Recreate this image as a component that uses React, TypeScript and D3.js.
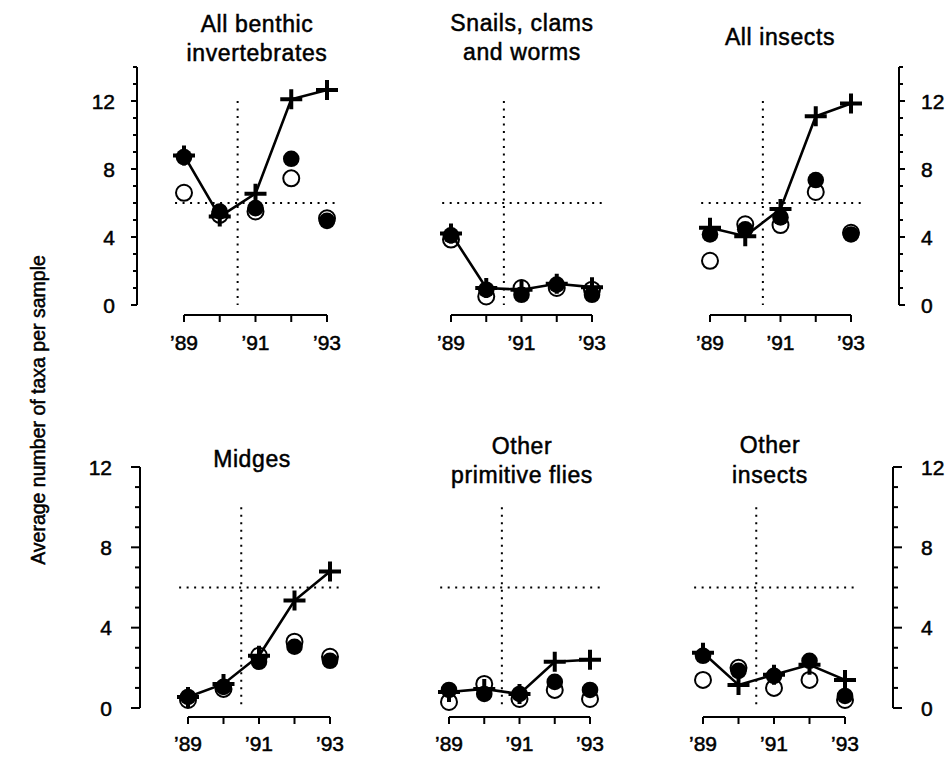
import React from "react"
import * as d3 from "d3"

// Data
const years = [1989, 1990, 1991, 1992, 1993]
const yearTicks = [1989, 1991, 1993]
const yearLabels = ["’89", "’91", "’93"]
const yMajorTicks = [0, 4, 8, 12]

const titles = [
  ["All benthic", "invertebrates"],
  ["Snails, clams", "and worms"],
  ["All insects"],
  ["Midges"],
  ["Other", "primitive flies"],
  ["Other", "insects"]
]

// "+" symbols, joined by the line
const plusSeries = [
  [8.8, 5.2, 6.55, 12.1, 12.65],
  [4.2, 1.0, 0.9, 1.25, 1.05],
  [4.55, 4.05, 5.65, 11.1, 11.85],
  [0.55, 1.2, 2.6, 5.35, 6.8],
  [0.8, 0.95, 0.7, 2.3, 2.4],
  [2.75, 1.15, 1.65, 2.15, 1.4]
]
// filled circles
const filledSeries = [
  [8.7, 5.5, 5.7, 8.6, 4.95],
  [4.1, 0.9, 0.6, 1.2, 0.6],
  [4.15, 4.45, 5.15, 7.35, 4.15],
  [0.55, 1.05, 2.3, 3.05, 2.35],
  [0.9, 0.7, 0.7, 1.3, 0.9],
  [2.6, 1.85, 1.6, 2.35, 0.6]
]
// open circles
const openSeries = [
  [6.6, 5.3, 5.5, 7.45, 5.1],
  [3.85, 0.5, 1.0, 1.0, 0.9],
  [2.6, 4.75, 4.7, 6.65, 4.25],
  [0.4, 0.95, 2.6, 3.3, 2.55],
  [0.3, 1.2, 0.45, 0.9, 0.45],
  [1.4, 2.0, 1.0, 1.4, 0.4]
]

const refYear = 1990.5
const refValue = 6
const refSpan = [1988.75, 1993.3]

// Layout
const rows = [
  { y0: 305, y12: 101, axisMax: 14, axisY: 315, labelY: 350, vTop: 12, tick: 6, minor: 4 },
  { y0: 708, y12: 467, axisMax: 12, axisY: 717, labelY: 751, vTop: 10, tick: 9, minor: 5 }
]
const panels = [
  { row: 0, x: [184, 327], tx: 257, ty: [32, 61], axis: "left", ax: 137 },
  { row: 0, x: [451, 592], tx: 522, ty: [31, 60], axis: null, ax: 0 },
  { row: 0, x: [710, 851], tx: 780, ty: [45], axis: "right", ax: 899 },
  { row: 1, x: [188, 330], tx: 252, ty: [467], axis: "left", ax: 140 },
  { row: 1, x: [449, 590], tx: 522, ty: [454, 483], axis: null, ax: 0 },
  { row: 1, x: [703, 845], tx: 770, ty: [453, 483], axis: "right", ax: 893 }
]

const font = "'Liberation Sans', Arial, Helvetica, sans-serif"
// scanned print looks a bit heavier than the plain font
const ink = { stroke: "#000", strokeWidth: 0.5 }

function Panel({ i }: { i: number }) {
  const p = panels[i]
  const r = rows[p.row]
  const x = d3.scaleLinear().domain([1989, 1993]).range(p.x)
  const y = d3.scaleLinear().domain([0, 12]).range([r.y0, r.y12])
  const line = d3
    .line<number>()
    .x((d, j) => x(years[j]))
    .y(d => y(d))
  const allTicks = d3.range(0, r.axisMax + 1)
  const dir = p.axis === "left" ? -1 : 1
  return (
    <g>
      {titles[i].map((t, k) => (
        <text key={t} x={p.tx} y={p.ty[k]} textAnchor="middle" fontSize={23} letterSpacing={0.6} {...ink}>
          {t}
        </text>
      ))}

      {/* reference lines */}
      <line
        x1={x(refYear)}
        x2={x(refYear)}
        y1={y(r.vTop)}
        y2={y(0)}
        stroke="#000"
        strokeWidth={2}
        strokeDasharray="2 5.5"
      />
      <line
        x1={x(refSpan[0])}
        x2={x(refSpan[1])}
        y1={y(refValue)}
        y2={y(refValue)}
        stroke="#000"
        strokeWidth={2}
        strokeDasharray="2 5.5"
      />

      {/* x axis */}
      <line x1={x(1989)} x2={x(1993)} y1={r.axisY} y2={r.axisY} stroke="#000" strokeWidth={2} />
      {years.map(yr => (
        <line key={yr} x1={x(yr)} x2={x(yr)} y1={r.axisY} y2={r.axisY + 7} stroke="#000" strokeWidth={2} />
      ))}
      {yearTicks.map((yr, k) => (
        <text key={yr} x={x(yr)} y={r.labelY} textAnchor="middle" fontSize={21} {...ink}>
          {yearLabels[k]}
        </text>
      ))}

      {/* y axis */}
      {p.axis && (
        <g>
          <line x1={p.ax} x2={p.ax} y1={y(0)} y2={y(r.axisMax)} stroke="#000" strokeWidth={2} />
          {allTicks.map(v => (
            <line
              key={v}
              x1={p.ax}
              x2={p.ax + dir * (v % 4 === 0 ? r.tick : r.minor)}
              y1={y(v)}
              y2={y(v)}
              stroke="#000"
              strokeWidth={2}
            />
          ))}
          {yMajorTicks.map(v => (
            <text
              key={v}
              x={p.ax + dir * (p.row === 0 ? 22 : 28)}
              y={y(v)}
              dy="0.36em"
              textAnchor={p.axis === "left" ? "end" : "start"}
              fontSize={21}
              {...ink}
            >
              {v}
            </text>
          ))}
        </g>
      )}

      {/* marks */}
      {openSeries[i].map((v, j) => (
        <circle key={"o" + j} cx={x(years[j])} cy={y(v)} r={8} fill="#fff" stroke="#000" strokeWidth={2} />
      ))}
      {filledSeries[i].map((v, j) => (
        <circle key={"f" + j} cx={x(years[j])} cy={y(v)} r={8.3} fill="#000" />
      ))}
      <path d={line(plusSeries[i]) || ""} fill="none" stroke="#000" strokeWidth={2.6} />
      {plusSeries[i].map((v, j) => (
        <path
          key={"p" + j}
          d={`M${x(years[j]) - 11},${y(v)}h22M${x(years[j])},${y(v) - 10}v20`}
          stroke="#000"
          strokeWidth={4}
        />
      ))}
    </g>
  )
}

export default function App() {
  return (
    <svg
      width={951}
      height={759}
      style={{ position: "absolute", left: 0, top: 0, background: "#fff" }}
      fontFamily={font}
    >
      <rect width={951} height={759} fill="#fff" />
      {panels.map((p, i) => (
        <Panel key={i} i={i} />
      ))}
      <text
        transform="translate(45, 410) rotate(-90)"
        textAnchor="middle"
        fontSize={19.5}
        {...ink}
      >
        Average number of taxa per sample
      </text>
    </svg>
  )
}
